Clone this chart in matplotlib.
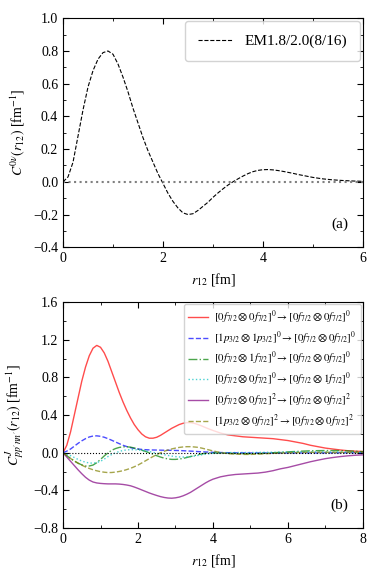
"""
two panels: C^0v(r12) for EM1.8/2.0 and the decomposition into J channels
"""
import matplotlib
matplotlib.use("Agg")
import matplotlib.pyplot as plt
import numpy as np
from matplotlib.ticker import MultipleLocator

plt.rcParams['font.family'] = 'serif'
plt.rcParams['font.serif'] = ['Liberation Serif', 'DejaVu Serif']
plt.rcParams['mathtext.fontset'] = 'stix'
plt.rcParams['font.size'] = 10

# ---- panel (a) ----
r_a = [0.0, 0.1, 0.2, 0.3, 0.4, 0.5, 0.6, 0.7, 0.8, 0.9, 1.0, 1.1, 1.2, 1.3, 1.4,
       1.5, 1.6, 1.7, 1.8, 1.9, 2.0, 2.1, 2.2, 2.3, 2.4, 2.5, 2.6, 2.7, 2.8, 2.9,
       3.0, 3.1, 3.2, 3.3, 3.4, 3.5, 3.6, 3.7, 3.8, 3.9, 4.0, 4.1, 4.2, 4.3, 4.4,
       4.5, 4.6, 4.7, 4.8, 4.9, 5.0, 5.2, 5.4, 5.6, 5.8, 6.0]
c0v = [0.0, 0.03, 0.12, 0.28, 0.44, 0.58, 0.68, 0.75, 0.79, 0.80, 0.78, 0.72, 0.64,
       0.55, 0.45, 0.36, 0.27, 0.19, 0.12, 0.05, -0.01, -0.07, -0.12, -0.16, -0.19,
       -0.20, -0.195, -0.175, -0.15, -0.125, -0.095, -0.068, -0.043, -0.02, 0.0,
       0.018, 0.035, 0.05, 0.062, 0.07, 0.074, 0.075, 0.073, 0.069, 0.064, 0.058,
       0.052, 0.045, 0.039, 0.033, 0.027, 0.018, 0.012, 0.008, 0.005, 0.003]

# ---- panel (b) ----  0.1 fm steps up to 4 fm, then 0.2 fm
r_b = [round(0.1 * i, 1) for i in range(41)] + [round(4.0 + 0.2 * i, 1) for i in range(1, 21)]
red = [0.0, 0.08, 0.22, 0.40, 0.58, 0.76, 0.91, 1.03, 1.11, 1.14, 1.12, 1.06, 0.97,
       0.86, 0.75, 0.64, 0.54, 0.45, 0.37, 0.30, 0.245, 0.20, 0.17, 0.155, 0.155,
       0.165, 0.185, 0.21, 0.235, 0.26, 0.28, 0.30, 0.313, 0.32, 0.32, 0.313, 0.30,
       0.285, 0.268, 0.252, 0.237,
       0.21, 0.19, 0.18, 0.17, 0.165, 0.16, 0.155, 0.15, 0.14, 0.13, 0.115, 0.10,
       0.08, 0.065, 0.05, 0.04, 0.03, 0.022, 0.017, 0.014]
blue = [0.0, 0.018, 0.04, 0.07, 0.10, 0.127, 0.15, 0.168, 0.178, 0.18, 0.175, 0.165,
        0.15, 0.133, 0.115, 0.097, 0.08, 0.066, 0.055, 0.046, 0.04, 0.036, 0.033,
        0.031, 0.03, 0.029, 0.028, 0.027, 0.027, 0.026, 0.025, 0.024, 0.022, 0.02,
        0.018, 0.016, 0.013, 0.011, 0.009, 0.007, 0.005,
        0.003, 0.001, 0.0, -0.001, -0.002, -0.002, -0.002, -0.002, -0.002, -0.002,
        -0.002, -0.002, -0.002, -0.001, -0.001, 0.0, 0.0, 0.0, 0.0, 0.0]
green = [0.0, -0.03, -0.06, -0.087, -0.11, -0.128, -0.14, -0.14, -0.13, -0.105,
         -0.07, -0.033, 0.0, 0.027, 0.045, 0.057, 0.063, 0.064, 0.06, 0.051, 0.04,
         0.028, 0.015, 0.0, -0.015, -0.031, -0.045, -0.057, -0.065, -0.07, -0.07,
         -0.066, -0.06, -0.05, -0.04, -0.03, -0.02, -0.012, -0.005, -0.001, 0.0,
         -0.003, -0.006, -0.008, -0.01, -0.01, -0.008, -0.005, 0.0, 0.005, 0.01,
         0.014, 0.018, 0.021, 0.023, 0.024, 0.024, 0.023, 0.02, 0.016, 0.012]
cyan = [0.0, -0.015, -0.03, -0.05, -0.07, -0.087, -0.10, -0.108, -0.11, -0.104,
        -0.09, -0.067, -0.04, -0.018, 0.0, 0.014, 0.025, 0.031, 0.033, 0.033, 0.03,
        0.026, 0.02, 0.013, 0.005, -0.004, -0.012, -0.02, -0.028, -0.035, -0.04,
        -0.044, -0.045, -0.044, -0.04, -0.035, -0.028, -0.021, -0.015, -0.01, -0.005,
        0.0, 0.002, 0.003, 0.003, 0.003, 0.004, 0.005, 0.006, 0.007, 0.008, 0.009,
        0.01, 0.01, 0.01, 0.01, 0.009, 0.008, 0.007, 0.006, 0.005]
purple = [0.0, -0.045, -0.09, -0.135, -0.18, -0.222, -0.26, -0.29, -0.31, -0.32,
          -0.325, -0.328, -0.33, -0.33, -0.33, -0.332, -0.336, -0.342, -0.35, -0.363,
          -0.378, -0.394, -0.41, -0.426, -0.44, -0.453, -0.465, -0.474, -0.48,
          -0.482, -0.478, -0.47, -0.457, -0.44, -0.42, -0.395, -0.37, -0.345, -0.32,
          -0.298, -0.28,
          -0.255, -0.24, -0.23, -0.225, -0.22, -0.215, -0.205, -0.19, -0.17, -0.155,
          -0.135, -0.115, -0.095, -0.078, -0.062, -0.05, -0.04, -0.032, -0.026,
          -0.022]
olive = [0.0, -0.03, -0.06, -0.086, -0.11, -0.131, -0.15, -0.166, -0.18, -0.191,
         -0.20, -0.206, -0.21, -0.209, -0.205, -0.198, -0.19, -0.178, -0.165, -0.148,
         -0.13, -0.108, -0.085, -0.062, -0.04, -0.019, 0.0, 0.016, 0.03, 0.041, 0.05,
         0.057, 0.062, 0.065, 0.065, 0.062, 0.058, 0.05, 0.04, 0.03, 0.02,
         0.003, -0.008, -0.014, -0.017, -0.017, -0.014, -0.01, -0.006, -0.003, 0.0,
         0.002, 0.004, 0.005, 0.006, 0.006, 0.005, 0.005, 0.004, 0.004, 0.003]

labels_b = [
    r'$[0f_{7/2}\otimes 0f_{7/2}]^0\rightarrow[0f_{7/2}\otimes 0f_{7/2}]^0$',
    r'$[1p_{3/2}\otimes 1p_{3/2}]^0\rightarrow[0f_{7/2}\otimes 0f_{7/2}]^0$',
    r'$[0f_{7/2}\otimes 1f_{7/2}]^0\rightarrow[0f_{7/2}\otimes 0f_{7/2}]^0$',
    r'$[0f_{7/2}\otimes 0f_{7/2}]^0\rightarrow[0f_{7/2}\otimes 1f_{7/2}]^0$',
    r'$[0f_{7/2}\otimes 0f_{7/2}]^2\rightarrow[0f_{7/2}\otimes 0f_{7/2}]^2$',
    r'$[1p_{3/2}\otimes 0f_{7/2}]^2\rightarrow[0f_{7/2}\otimes 0f_{7/2}]^2$',
]


def style_axis(ax, xmaj, xmin, ymaj, ymin):
    ax.xaxis.set_major_locator(MultipleLocator(xmaj))
    ax.xaxis.set_minor_locator(MultipleLocator(xmin))
    ax.yaxis.set_major_locator(MultipleLocator(ymaj))
    ax.yaxis.set_minor_locator(MultipleLocator(ymin))
    ax.tick_params(which='both', direction='in', top=True, right=True)
    ax.tick_params(which='major', length=4)
    ax.tick_params(which='minor', length=2)


fig = plt.figure(figsize=(3.82, 5.71), dpi=100)

ax1 = fig.add_axes([0.165, 0.567, 0.785, 0.401])
ax1.plot(r_a, c0v, color='black', ls='--', lw=0.8, label='EM1.8/2.0(8/16)')
ax1.axhline(0, color='gray', ls=':', lw=1.5)
ax1.set_xlim(0, 6)
ax1.set_ylim(-0.4, 1.0)
style_axis(ax1, 2, 1, 0.2, 0.1)
ax1.set_xlabel(r'$r_{12}$ [fm]')
ax1.set_ylabel(r'$C^{0\nu}(r_{12})$ [fm$^{-1}$]')
ax1.legend(loc='upper right', fontsize=11, handlelength=2.2, handletextpad=0.8,
           borderpad=0.85, borderaxespad=0.2, edgecolor='#c8c8c8')
ax1.text(0.95, 0.07, '(a)', transform=ax1.transAxes, ha='right', va='bottom',
         fontsize=11)

ax2 = fig.add_axes([0.165, 0.075, 0.785, 0.396])
series = [red, blue, green, cyan, purple, olive]
co = ['red', 'blue', 'green', 'c', 'purple', 'olive']
ls = ['-', '--', '-.', ':', '-', '--']
for i in range(len(series)):
    ax2.plot(r_b, series[i], color=co[i], ls=ls[i], lw=1.0, alpha=0.7,
             label=labels_b[i])
ax2.axhline(0, color='black', ls=':', lw=0.8)
ax2.set_xlim(0, 8)
ax2.set_ylim(-0.8, 1.6)
style_axis(ax2, 2, 1, 0.4, 0.2)
ax2.set_xlabel(r'$r_{12}$ [fm]')
ax2.set_ylabel(r"$C^{J}_{pp'nn'}(r_{12})$ [fm$^{-1}$]")
ax2.legend(loc='upper right', fontsize=7.8, handlelength=1.8, handletextpad=0.6,
           edgecolor='#c8c8c8', borderaxespad=0.2, labelspacing=0.35)
ax2.text(0.95, 0.07, '(b)', transform=ax2.transAxes, ha='right', va='bottom',
         fontsize=11)

fig.savefig('out.png', dpi=100)
